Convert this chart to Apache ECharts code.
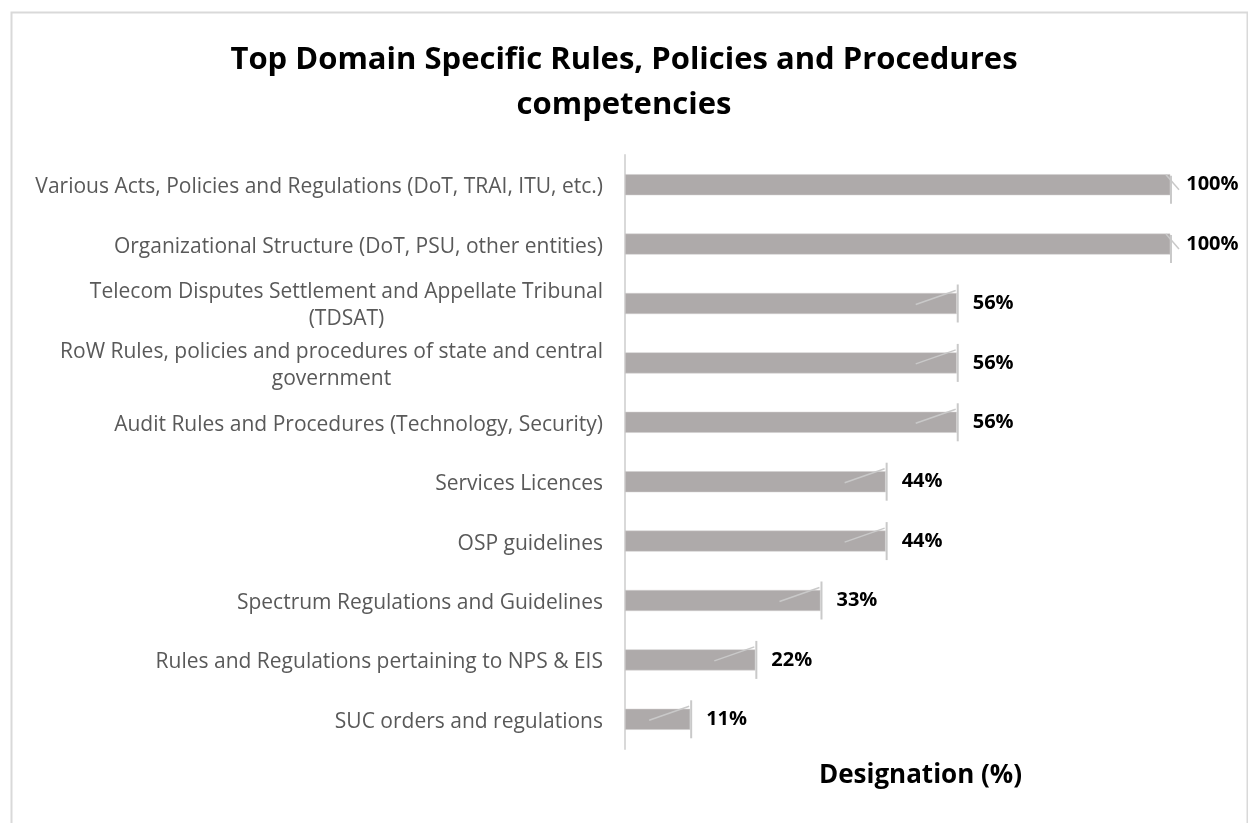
<!DOCTYPE html>
<html>
<head>
<meta charset="utf-8">
<script src="https://cdn.jsdelivr.net/npm/echarts@6/dist/echarts.min.js"></script>
<style>
html,body{margin:0;padding:0;background:#fff;}
#chart{width:1248px;height:823px;}
</style>
</head>
<body>
<div id="chart"></div>
<script>
const titleText = "Top Domain Specific Rules, Policies and Procedures\ncompetencies";
const axisTitle = "Designation (%)";
const categories = [
  "Various Acts, Policies and Regulations (DoT, TRAI, ITU, etc.)",
  "Organizational Structure (DoT, PSU, other entities)",
  "Telecom Disputes Settlement and Appellate Tribunal\n(TDSAT)",
  "RoW Rules, policies and procedures of state and central\ngovernment",
  "Audit Rules and Procedures (Technology, Security)",
  "Services Licences",
  "OSP guidelines",
  "Spectrum Regulations and Guidelines",
  "Rules and Regulations pertaining to NPS & EIS",
  "SUC orders and regulations"
];
const values = [100, 100, 56, 56, 56, 44, 44, 33, 22, 11];

const AXIS_MAX = 92;
const FONT = "'Open Sans', 'Noto Sans', sans-serif";

const chart = echarts.init(document.getElementById('chart'), null, {renderer: 'canvas'});

const markerData = values.map((v, i) => [v, i]);

chart.setOption({
  backgroundColor: '#ffffff',
  animation: false,
  graphic: [{
    type: 'rect',
    left: 9, top: 10,
    shape: {width: 1236, height: 900},
    style: {fill: 'none', stroke: '#d9d9d9', lineWidth: 2},
    silent: true, z: -1
  }],
  title: {
    text: titleText,
    left: 'center',
    top: 33,
    textStyle: {
      fontFamily: FONT,
      fontSize: 31,
      fontWeight: 'bold',
      color: '#000000',
      lineHeight: 45
    }
  },
  grid: {left: 625, top: 155, width: 545, height: 594, containLabel: false},
  xAxis: {
    type: 'value',
    min: 0,
    max: AXIS_MAX,
    show: true,
    axisLine: {show: false},
    axisTick: {show: false},
    axisLabel: {show: false},
    splitLine: {show: false},
    name: axisTitle,
    nameLocation: 'middle',
    nameGap: 14,
    nameTextStyle: {
      fontFamily: FONT,
      fontSize: 26,
      fontWeight: 'bold',
      color: '#000000',
      padding: [0, 0, 0, 46]
    }
  },
  yAxis: {
    type: 'category',
    data: categories,
    inverse: true,
    axisLine: {show: true, lineStyle: {color: '#d9d9d9', width: 2}},
    axisTick: {show: false},
    splitLine: {show: false},
    axisLabel: {
      margin: 22,
      fontFamily: FONT,
      fontSize: 21,
      color: '#595959',
      lineHeight: 27,
      padding: [5, 0, 0, 0],
      formatter: function (v) {
        return v.split('\n').map(s => '{c|' + s + '}').join('\n');
      },
      rich: {
        c: {align: 'center', fontFamily: FONT, fontSize: 21, color: '#595959', lineHeight: 27}
      }
    }
  },
  series: [{
    type: 'bar',
    data: values,
    barWidth: 21,
    clip: true,
    itemStyle: {color: '#AEAAAA', borderColor: '#D0CECE', borderWidth: 0.5},
    label: {
      show: true,
      position: 'right',
      distance: 16,
      fontFamily: FONT,
      fontSize: 20,
      fontWeight: 'bold',
      color: '#000000',
      formatter: p => p.value + '%'
    }
  }, {
    type: 'custom',
    data: markerData,
    encode: {x: 0, y: 1},
    clip: false,
    z: 5,
    renderItem: function (params, api) {
      const v = api.value(0);
      const idx = api.value(1);
      const clipped = v > AXIS_MAX;
      const p = api.coord([Math.min(v, AXIS_MAX), idx]);
      const x = p[0] + 1, y = p[1];
      const children = [{
        type: 'line',
        shape: clipped ? {x1: x, y1: y - 9, x2: x, y2: y + 19} : {x1: x, y1: y - 19, x2: x, y2: y + 19},
        style: {stroke: '#c9c9c9', lineWidth: 2}
      }];
      if (clipped) {
        children.push({
          type: 'line',
          shape: {x1: x - 5, y1: y - 10, x2: x + 8, y2: y + 5},
          style: {stroke: '#c9c9c9', lineWidth: 1.5}
        });
      } else {
        children.push({
          type: 'line',
          shape: {x1: x - 42, y1: y + 1, x2: x - 2, y2: y - 13},
          style: {stroke: '#c9c9c9', lineWidth: 1.5}
        });
      }
      return {type: 'group', children: children};
    }
  }]
});
</script>
</body>
</html>
